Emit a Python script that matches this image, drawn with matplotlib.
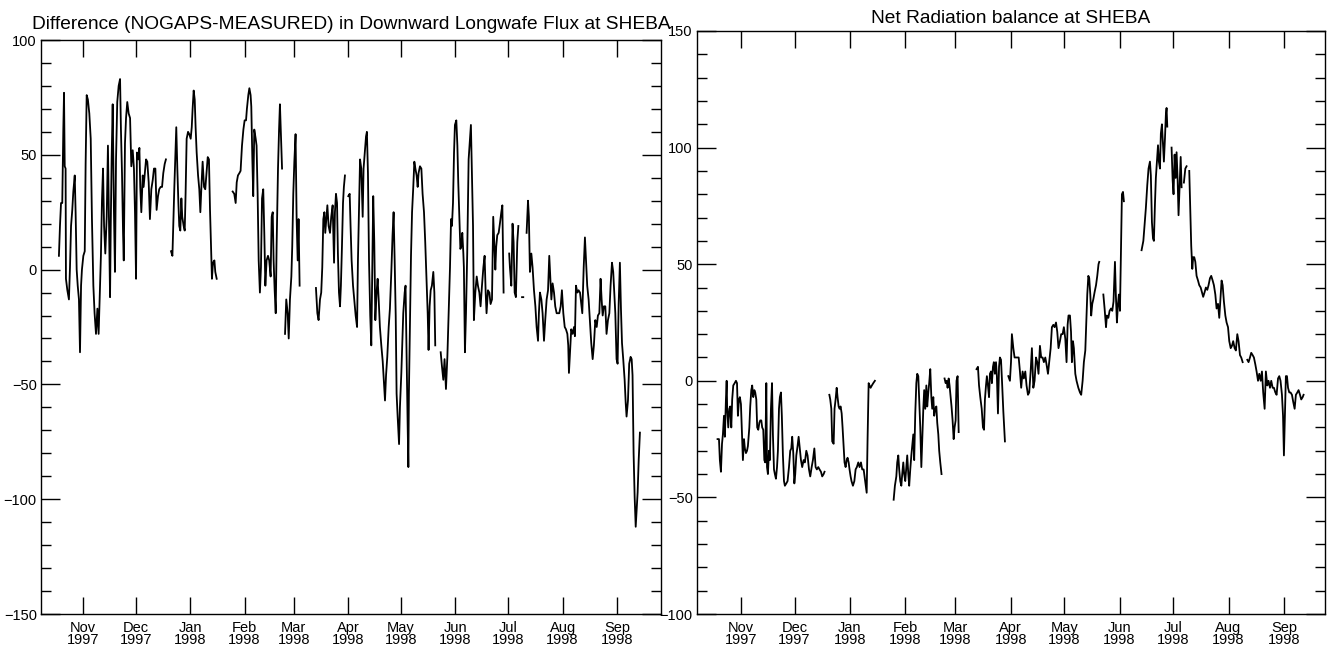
import datetime
import numpy as np
import matplotlib
matplotlib.use('Agg')
import matplotlib.pyplot as plt
import matplotlib.dates as mdates
from matplotlib.ticker import MultipleLocator

nan = np.nan

# days since 1997-10-01, NaN marks a gap in the record
lw_days = [
    17.3, 17.9, 18.5, 19.2, 19.8, 20.2, 20.6, 21.1, 21.3, 22.1, 23.0, 23.6, 24.2, 24.9, 25.5, 26.3,
    26.8, 27.4, 28.0, 28.7, 29.3, 29.9, 30.4, 31.2, 32.0, 32.5, 33.1, 33.8, 34.6, 35.4, 36.1, 36.9,
    37.6, 38.4, 39.2, 39.9, 40.5, 41.2, 41.8, 42.4, 43.0, 43.7, 44.5, 45.2, 46.0, 46.4, 46.8, 47.3,
    47.9, 48.6, 49.2, 49.8, 50.5, 51.3, 52.1, 52.6, 53.2, 53.8, 54.2, 54.9, 55.5, 56.2, 57.0, 57.8,
    58.5, 59.3, 60.0, 60.6, 61.2, 61.7, 62.5, 63.1, 63.6, 64.2, 65.0, 65.5, 66.1, 66.9, 67.6, 68.4,
    69.1, 69.9, 70.7, 71.4, 72.2, 72.9, 73.7, 74.4, 75.2, 76.0, 76.7, 77.5, 78.2, nan,
    81.1, 81.9, 82.4, 83.0, 83.6, 84.1, 84.7, 85.3, 85.8, 86.4, 87.0, 87.5, 88.3, 88.9, 89.4, 90.0,
    90.8, 91.5, 92.3, 92.9, 93.4, 94.0, 94.6, 95.1, 95.7, 96.5, 97.2, 97.8, 98.4, 99.1, 99.9, 100.6,
    102.0, 102.7, 103.3, 103.9, 104.4, 105.0, 105.8, 106.3, 107.1, nan,
    116.2, 117.1, 117.9, 118.5, 119.2, 120.0, 120.7, 121.5, 122.3, 123.0, 123.8, 124.3, 125.1, 125.7,
    126.4, 126.8, 127.4, 127.9, 128.5, 129.3, 129.8, 130.4, 131.0, 131.7, 132.3, 132.9, 133.6, 134.2,
    134.8, 135.5, 136.3, 137.0, 137.8, 138.4, 139.0, 139.5, 140.1, 140.7, 141.2, 142.0, 142.6, 143.1,
    143.7, 144.3, nan,
    146.0, 146.7, 147.5, 148.1, 148.8, 149.6, 150.1, 150.7, 151.3, 152.0, 152.6, 153.2, 153.7, 154.3, nan,
    163.6, 164.4, 165.1, 165.9, 166.6, 167.2, 167.8, 168.4, 168.9, 169.5, 170.1, 170.8, 171.6, 172.3,
    173.1, 173.9, 174.4, 175.0, 175.6, 176.1, 176.7, 177.3, 177.8, 178.4, 179.0, 179.5, 180.1, nan,
    182.0, 182.8, 183.3, 183.9, 184.7, 185.4, 186.2, 187.0, 187.5, 188.1, 188.7, 189.4, 190.2, 190.7,
    191.5, 192.1, 192.6, 193.2, 193.8, 194.5, 195.1, 195.7, 196.2, 196.8, 197.4, 198.1, 198.7, 199.3,
    200.0, 200.8, 201.6, 202.3, 202.9, 203.5, 204.2, 205.0, 205.7, 206.5, 207.2, 207.8, 208.4, 209.0,
    209.5, 210.1, 210.9, 211.4, 212.2, 212.8, 213.3, 214.1, 214.6, 215.2, 215.8, 216.2, 216.5, 217.1,
    217.7, 218.3, 219.0, 219.6, 220.2, 220.9, 221.5, 222.0, 222.8, 223.6, 224.3, 225.1, 225.8, 226.4,
    227.2, 227.7, 228.3, 228.9, 229.6, 230.4, 231.0, 231.5, nan,
    234.6, 235.3, 236.1, 236.8, 237.6, 238.4, 239.1, 239.9, 240.5, 241.0, 241.6, 242.2, 242.7, 243.5,
    244.1, 244.6, 245.2, 245.8, 246.3, 246.9, 247.5, 247.8, 248.4, 249.0, 249.7, 250.5, 251.3, 251.8,
    252.4, 253.0, 253.5, 254.3, 255.1, 255.8, 256.6, 257.3, 258.1, 258.9, 259.6, 260.2, 260.7, 261.5,
    262.3, 263.0, 263.8, 264.5, 265.1, 265.7, 266.2, 266.8, 267.6, 268.3, 269.1, 269.7, 270.4, nan,
    273.6, 274.0, 274.8, 275.5, 276.1, 276.7, 277.4, 278.2, 278.8, nan,
    280.9, 281.6, nan,
    283.5, 284.3, 284.8, 285.4, 286.2, 286.9, 287.7, 288.5, 289.2, 290.0, 290.5, 291.1, 291.9, 292.6,
    293.4, 294.1, 294.9, 295.7, 296.4, 297.0, 297.6, 298.3, 299.1, 299.8, 300.6, 301.3, 302.1, 302.9,
    303.6, 304.4, 305.2, 305.9, 306.7, 307.2, 307.6, 308.2, 308.9, 309.7, 310.5, 311.0, 311.6, 312.4,
    313.1, 313.9, 315.2, 316.0, 316.7, 317.3, 318.0, 318.8, 319.6, 320.3, 321.1, 321.8, 322.6, 323.4,
    324.1, 324.9, 325.6, 326.2, 326.8, 327.5, 328.3, 329.0, 329.8, 330.6, 331.3, 332.1, 332.8, 333.4,
    334.0, 334.7, 335.3, 335.9, 336.6, 337.2, 337.8, 338.5, 339.3, 339.9, 340.4, 341.2, 341.9, 342.7,
    343.3, 343.8, 344.4, 345.0, 345.6, 346.1, 346.7, 347.3, 348.0,
]
lw_diff = [
    6, 19, 29, 29, 61, 77, 45, 44, -4, -9, -13, 1, 19, 26, 34, 41,
    25, 0, -7, -13, -36, -7, 0, 6, 8, 46, 76, 74, 68, 57, 22, -7,
    -19, -28, -17, -28, -12, 6, 30, 44, 19, 7, 23, 54, 10, -12, 19, 48,
    72, 26, -1, 48, 73, 80, 83, 61, 42, 16, 4, 55, 66, 73, 68, 66,
    45, 52, 44, 25, -4, 51, 48, 53, 36, 25, 41, 36, 41, 48, 47, 38,
    22, 35, 39, 44, 44, 26, 32, 35, 36, 36, 42, 46, 48, nan,
    8, 6, 20, 36, 51, 62, 44, 29, 19, 17, 31, 23, 19, 17, 33, 57,
    60, 59, 57, 62, 70, 78, 74, 62, 51, 41, 35, 25, 36, 47, 36, 35,
    49, 48, 26, 9, -4, 3, 4, -1, -4, nan,
    34, 33, 29, 38, 41, 42, 43, 54, 61, 65, 65, 70, 76, 79,
    76, 71, 48, 32, 61, 57, 54, 33, 4, -10, 1, 31, 35, 16,
    -7, 4, 6, 4, -3, 23, 25, 4, -9, -19, 10, 44, 61, 72,
    58, 44, nan,
    -28, -13, -19, -30, -13, -3, 10, 33, 47, 59, 22, 4, 22, -7, nan,
    -8, -19, -22, -13, -10, 1, 22, 25, 16, 22, 28, 19, 16, 23,
    28, 3, 25, 33, 29, 7, -10, -16, -7, 10, 29, 36, 41, nan,
    32, 33, 19, 4, -7, -13, -20, -25, 4, 26, 48, 44, 23, 44,
    52, 58, 60, 42, 4, -20, -33, 4, 32, 12, -22, -10, -4, -13,
    -25, -33, -40, -49, -57, -46, -38, -25, -17, -1, 15, 25, 4, -20,
    -54, -64, -76, -60, -45, -31, -19, -10, -7, -38, -68, -86, -54, -25,
    6, 25, 36, 47, 44, 41, 36, 42, 45, 44, 33, 25, 12, -1,
    -19, -35, -16, -9, -7, -1, -10, -33, nan,
    -36, -42, -48, -39, -52, -38, -19, 1, 22, 19, 29, 51, 63, 65,
    54, 38, 23, 9, 10, 16, 7, 1, -36, -19, 7, 48, 57, 63,
    41, 19, -22, -10, -3, -7, -10, -16, -7, 1, 6, -10, -19, -9,
    -10, -15, -13, 23, 12, 0, 10, 15, 16, 20, 25, 28, -10, nan,
    7, 1, -7, 20, 12, -10, -12, 12, 19, nan,
    -12, -12, nan,
    16, 30, 23, -1, 7, 1, -9, -16, -25, -31, -19, -10, -13, -19,
    -31, -22, -13, -9, 6, -4, -13, -6, -10, -16, -19, -19, -19, -16,
    -9, -19, -25, -26, -28, -33, -45, -36, -26, -28, -25, -29, -7, -10,
    -9, -10, -19, 1, 14, 4, -7, -13, -23, -32, -39, -33, -22, -25,
    -20, -19, -4, -13, -20, -16, -16, -28, -22, -19, -7, 3, -1, -10,
    -19, -39, -41, -15, 3, -17, -32, -39, -48, -58, -64, -57, -41, -38,
    -39, -46, -80, -99, -112, -105, -97, -83, -71,
]

net_days = [
    17.9, 18.7, 19.2, 19.8, 20.4, 20.9, 21.5, 22.0, 22.6, 23.0, 23.3, 23.9, 24.5, 25.0, 25.6, 26.1,
    26.7, 27.5, 28.2, 28.8, 29.3, 29.9, 30.4, 31.0, 31.6, 32.1, 32.7, 33.2, 33.8, 34.4, 34.9, 35.7,
    36.2, 36.8, 37.3, 37.9, 38.5, 39.0, 39.6, 40.1, 40.7, 41.3, 41.8, 42.4, 42.9, 43.5, 44.1, 44.6,
    45.2, 45.6, 46.1, 46.7, 47.2, 47.8, 48.4, 48.9, 49.5, 50.0, 50.6, 51.2, 51.7, 52.3, 52.8, 53.4,
    53.9, 54.5, 55.1, 55.6, 56.4, 57.1, 57.9, 58.6, 59.2, 59.7, 60.3, 60.9, 61.4, 62.0, 62.7, 63.3,
    63.8, 64.6, 65.3, 66.1, 66.8, 67.6, 68.3, 69.1, 69.8, 70.6, 71.3, 72.1, 72.8, 73.5, 74.3, 75.0,
    75.8, 76.5, 77.3, 77.8, nan,
    80.5, 81.0, 81.6, 82.1, 82.9, 83.4, 84.0, 84.6, 85.1, 85.7, 86.2, 86.8, 87.4, 87.9, 88.5, 89.0,
    89.6, 90.2, 90.7, 91.3, 91.8, 92.4, 92.9, 93.7, 94.5, 95.2, 95.9, 96.7, 97.4, 98.2, 98.9, 99.7,
    101.4, 101.9, 102.5, 103.0, 103.6, 104.3, 105.1, 106.0, nan,
    116.5, 117.2, 118.0, 118.5, 119.1, 119.6, 120.2, 120.8, 121.3, 121.9, 122.4, 123.0, 123.6, 124.1,
    124.7, 125.2, 125.8, 126.4, 126.9, 127.5, 128.0, 128.6, 129.2, 129.7, 130.3, 130.8, 131.4, 132.0,
    132.5, 133.1, 133.6, 134.2, 134.8, 135.3, 135.9, 136.4, 137.0, 137.6, 138.1, 138.7, 139.2, 139.8,
    140.4, 140.9, 141.5, 142.0, 142.6, 143.3, nan,
    145.0, 145.6, 146.2, 146.7, 147.3, 147.8, 148.4, 148.9, 149.5, 150.1, 150.6, 151.2, 151.7, 152.3,
    152.9, nan,
    162.9, 163.7, 164.3, 165.0, 165.8, 166.5, 167.1, 167.6, 168.2, 168.7, 169.3, 169.9, 170.4, 171.0,
    171.5, 172.1, 172.6, 173.2, 173.8, 174.3, 174.9, 175.5, 176.0, 176.6, 177.1, 177.9, 178.8, nan,
    180.7, 181.6, 182.2, 182.7, 183.5, 184.2, 185.0, 185.7, 186.5, 187.2, 187.9, 188.7, 189.4, 190.2,
    190.9, 191.7, 192.4, 193.2, 193.9, 194.7, 195.4, 196.2, 196.9, 197.6, 198.4, 199.1, 199.9, 200.6,
    201.4, 202.1, 202.9, 203.6, 204.4, 205.1, 205.9, 206.6, 207.4, 208.1, 208.8, 209.6, 210.3, 211.1,
    211.8, 212.6, 213.3, 213.9, 214.4, 215.2, 215.8, 216.3, 216.9, 217.4, 218.2, 218.9, 219.9, 220.8,
    221.5, 222.3, 223.0, 223.8, 224.3, 224.9, 225.5, 226.0, 226.6, 227.1, 227.7, 228.3, 229.0, 229.8,
    230.5, 231.2, 231.6, nan,
    233.9, 234.6, 235.4, 235.9, 236.7, 237.4, 238.2, 238.9, 239.6, 240.4, 240.9, 241.5, 242.1, 242.6,
    243.2, 243.7, 244.3, 244.9, 245.4, nan,
    255.3, 256.3, 257.0, 257.7, 258.5, 259.2, 260.0, 260.5, 261.1, 261.7, 262.2, 262.8, 263.3, 263.9,
    264.5, 265.0, 265.6, 266.1, 266.7, 267.3, 267.8, 268.4, 268.9, 269.3, 269.7, nan,
    272.1, 272.7, 273.2, 273.8, 274.4, 274.9, 275.5, 276.0, 276.6, 277.2, 277.7, nan,
    279.0, 279.8, 280.5, nan,
    282.0, 282.6, 283.1, 283.7, 284.2, 284.8, 285.4, 286.1, 286.9, 287.6, 288.4, 289.1, 289.8, 290.6,
    291.3, 292.1, 292.8, 293.6, 294.3, 295.1, 295.8, 296.6, 297.3, 298.1, 298.8, 299.6, 300.1, 300.7,
    301.4, 302.2, 302.9, 303.7, 304.4, 305.2, 305.9, 306.6, 307.4, 308.1, 308.9, 309.6, 310.4, 311.1,
    311.9, nan,
    314.5, 315.2, 316.0, 316.7, 317.5, 318.2, 319.0, 319.7, 320.5, 321.2, 322.0, 322.7, 323.4, 324.2,
    324.9, 325.7, 326.4, 327.2, 327.9, 328.7, 329.4, 330.2, 330.9, 331.7, 332.4, 333.1, 333.9, 334.5,
    335.0, 335.6, 336.1, 336.7, 337.3, 338.0, 338.7, 339.5, 340.2, 341.0, 341.7, 342.5, 343.2, 344.0,
    344.7, 345.5, 346.0,
]
net_rad = [
    -25, -25, -34, -39, -27, -23, -15, -24, -8, 0, -12, -20, -12, -11, -20, -8,
    -2, -1, 0, -1, -15, -8, -7, -10, -23, -34, -25, -29, -31, -30, -28, -20,
    -11, -4, -2, -7, -4, -5, -8, -20, -21, -18, -17, -17, -20, -21, -34, -35,
    -1, -37, -40, -30, -34, -12, -1, -23, -38, -40, -42, -37, -30, -12, -7, -5,
    -15, -32, -43, -45, -44, -43, -37, -30, -29, -24, -31, -44, -40, -32, -28, -24,
    -28, -34, -37, -34, -35, -30, -32, -38, -41, -37, -34, -29, -37, -38, -37, -38,
    -39, -41, -40, -39, nan,
    -6, -8, -12, -26, -27, -12, -8, -3, -7, -11, -12, -11, -14, -20, -28, -35,
    -37, -34, -33, -35, -38, -41, -43, -45, -43, -38, -37, -35, -37, -35, -38, -38,
    -48, -25, -1, -2, -3, -2, -1, 0, nan,
    -51, -45, -41, -35, -32, -38, -43, -45, -40, -35, -40, -43, -37, -32,
    -40, -45, -38, -32, -28, -23, -34, -14, -1, 3, 2, -8, -20, -37,
    -25, -12, -4, -12, -2, -11, -5, -1, 5, -7, -12, -7, -15, -12,
    -11, -18, -23, -30, -35, -40, nan,
    1, -1, 0, -3, 1, -2, -7, -11, -17, -25, -20, -17, 0, 2,
    -22, nan,
    5, 6, -2, -7, -12, -20, -21, -8, -2, 2, -2, -7, 3, 4,
    -1, 6, 8, 3, 8, 2, -14, 6, 10, 9, 1, -13, -26, nan,
    2, 0, 8, 20, 14, 10, 10, 10, 10, 4, -3, 4, 1, 4,
    -2, -6, -5, 4, 14, -3, 0, 10, 8, 3, 15, 10, 10, 8,
    10, 7, 3, 8, 14, 23, 24, 23, 25, 21, 14, 17, 20, 20,
    23, 18, 8, 24, 28, 28, 21, 8, 17, 14, 3, 0, -3, -5,
    -6, 0, 8, 13, 24, 37, 45, 44, 37, 28, 33, 35, 38, 41,
    45, 50, 51, nan,
    37, 31, 23, 28, 27, 30, 31, 30, 34, 51, 37, 25, 33, 37,
    30, 53, 80, 81, 77, nan,
    56, 60, 67, 74, 84, 91, 94, 88, 68, 61, 60, 76, 87, 94,
    101, 94, 91, 106, 110, 101, 94, 104, 114, 117, 109, nan,
    100, 86, 80, 97, 87, 98, 86, 71, 83, 96, 83, nan,
    85, 91, 92, nan,
    90, 73, 58, 48, 53, 53, 51, 45, 43, 41, 40, 38, 36, 38,
    40, 39, 41, 44, 45, 43, 41, 37, 31, 33, 27, 37, 43, 41,
    34, 28, 25, 23, 17, 14, 15, 17, 14, 13, 20, 17, 11, 10,
    8, nan,
    9, 8, 10, 12, 11, 10, 7, 4, 0, 3, 0, 4, -5, -12,
    4, -2, 0, -3, 0, -3, -3, -5, -6, 1, 2, 0, -6, -15,
    -32, -13, 2, 2, -3, -5, -5, -6, -9, -12, -6, -5, -4, -6,
    -8, -7, -6,
]

month_starts = ['1997-11-01', '1997-12-01', '1998-01-01', '1998-02-01', '1998-03-01', '1998-04-01',
                '1998-05-01', '1998-06-01', '1998-07-01', '1998-08-01', '1998-09-01']
month_labels = ['Nov\n1997', 'Dec\n1997', 'Jan\n1998', 'Feb\n1998', 'Mar\n1998', 'Apr\n1998',
                'May\n1998', 'Jun\n1998', 'Jul\n1998', 'Aug\n1998', 'Sep\n1998']

plt.rcParams['font.family'] = ['Liberation Sans', 'DejaVu Sans']

base = mdates.date2num(datetime.datetime(1997, 10, 1))
tick_pos = [mdates.date2num(datetime.datetime.strptime(d, '%Y-%m-%d')) for d in month_starts]

fig = plt.figure(figsize=(13.27, 6.46), dpi=100)
ax1 = fig.add_axes([41 / 1327, 32 / 646, 620 / 1327, 574 / 646])
ax2 = fig.add_axes([697 / 1327, 32 / 646, 628 / 1327, 583 / 646])


def style(ax, xlim_days, ylim, title, pad):
    ax.set_xlim(base + xlim_days[0], base + xlim_days[1])
    ax.set_ylim(*ylim)
    ax.set_xticks(tick_pos)
    labels = ax.set_xticklabels(month_labels, fontsize=10.5)
    for lab in labels:
        lab.set_linespacing(0.85)
    ax.set_yticks(np.arange(ylim[0], ylim[1] + 1, 50))
    ax.yaxis.set_minor_locator(MultipleLocator(10))
    ax.tick_params(axis='both', which='both', direction='in', top=True, right=True,
                   width=1, color='black')
    ax.tick_params(axis='x', which='major', length=12, pad=5)
    ax.tick_params(axis='y', which='major', length=14, pad=3, labelsize=10.5)
    ax.tick_params(axis='y', which='minor', length=7)
    for s in ax.spines.values():
        s.set_linewidth(1.0)
        s.set_color('black')
    ax.set_title(title, fontsize=13.8, pad=pad)


ax1.plot(base + np.array(lw_days), lw_diff, color='black', lw=1.3)
style(ax1, (7.1, 360.0), (-150, 100),
      'Difference (NOGAPS-MEASURED) in Downward Longwafe Flux at SHEBA', 8)

ax2.plot(base + np.array(net_days), net_rad, color='black', lw=1.3)
style(ax2, (6.4, 358.0), (-100, 150), 'Net Radiation balance at SHEBA', 5.5)

fig.savefig('out.png', dpi=100, facecolor='white')
